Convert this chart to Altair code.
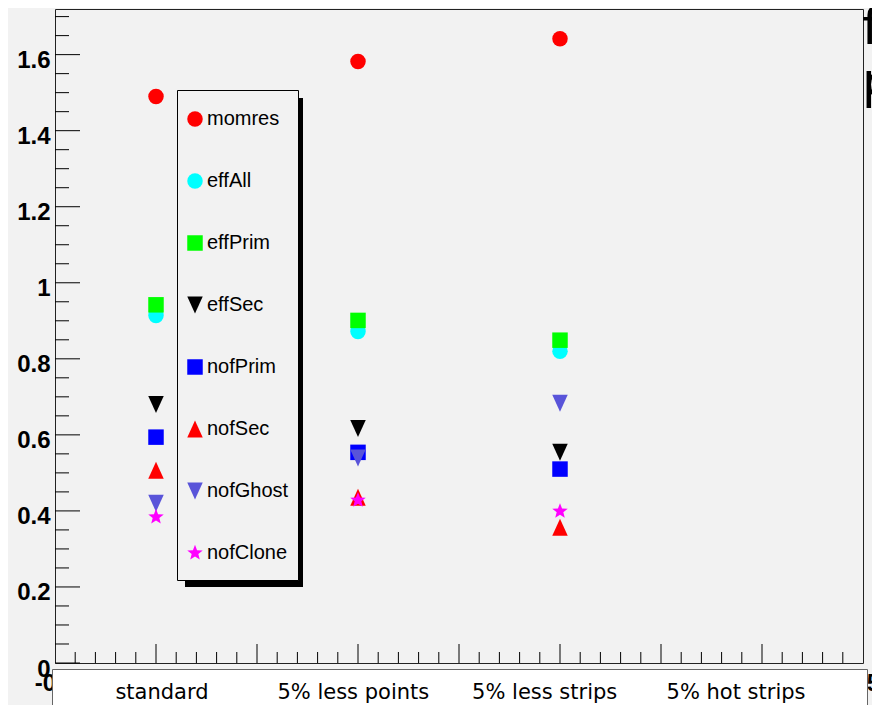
import math
import altair as alt
import pandas as pd

# ---------------- data ----------------
categories = ["standard", "5% less points", "5% less strips", "5% hot strips"]
series = ["momres", "effAll", "effPrim", "effSec", "nofPrim", "nofSec", "nofGhost", "nofClone"]
momres = [1.490, 1.582, 1.642]
effAll = [0.914, 0.872, 0.820]
effPrim = [0.942, 0.901, 0.849]
effSec = [0.680, 0.617, 0.554]
nofPrim = [0.594, 0.554, 0.510]
nofSec = [0.507, 0.436, 0.357]
nofGhost = [0.420, 0.539, 0.683]
nofClone = [0.384, 0.428, 0.399]
y_tick_labels = [0, 0.2, 0.4, 0.6, 0.8, 1, 1.2, 1.4, 1.6]
x_tick_labels = [-0.5, 3.5]   # the inner x labels are hidden under the label box
side_text = ["f", "p"]

values_by_series = {
    "momres": momres, "effAll": effAll, "effPrim": effPrim, "effSec": effSec,
    "nofPrim": nofPrim, "nofSec": nofSec, "nofGhost": nofGhost, "nofClone": nofClone,
}

rows = []
for s in series:
    for i, v in enumerate(values_by_series[s]):
        rows.append({"series": s, "pos": i, "value": v})
df = pd.DataFrame(rows)

# axis tick positions (frame decoration)
y_major = y_tick_labels
y_minor = [round(k * 0.05, 2) for k in range(1, 35) if k % 4 != 0]
x_major = [0, 0.5, 1, 1.5, 2, 2.5, 3]
x_minor = [round(-0.5 + k * 0.1, 2) for k in range(1, 40) if k % 5 != 0]

# ---------------- style ----------------
W, H = 808, 654
BG = "#f2f2f2"
colors = ["#ff0000", "#00ffff", "#00ff00", "#000000", "#0000ff", "#ff0000", "#5954d9", "#ff00ff"]

tri_down = "M-1,-1.1L1,-1.1L0,1.1Z"
tri_up = "M-1,1.1L1,1.1L0,-1.1Z"
pts = []
for k in range(10):
    r = 1.05 if k % 2 == 0 else 0.45
    a = -math.pi / 2 + k * math.pi / 5
    pts.append(f"{r * math.cos(a):.3f},{r * math.sin(a):.3f}")
star = "M" + "L".join(pts) + "Z"
shapes = ["circle", "circle", "square", tri_down, "square", tri_up, tri_down, star]

xscale = alt.Scale(domain=[-0.5, 3.5], nice=False, zero=False)
yscale = alt.Scale(domain=[0, 1.72], nice=False, zero=False)

xaxis = alt.Axis(
    values=x_tick_labels,
    labelExpr="(datum.value < 0 ? '-' : '') + format(abs(datum.value), '~g')",
    ticks=False, domain=False, grid=False, title=None,
    labelFont="Liberation Sans", labelFontWeight="bold", labelFontSize=24,
    labelColor="black", labelPadding=8, labelOverlap=False, labelBound=False,
    labelFlush=False, labelBaseline="top", zindex=0,
)
yaxis = alt.Axis(
    values=y_tick_labels, format="~g",
    ticks=False, domain=False, grid=False, title=None,
    labelFont="Liberation Sans", labelFontWeight="bold", labelFontSize=24,
    labelColor="black", labelPadding=5, labelOverlap=False, labelBound=False,
    labelFlush=False, labelBaseline="middle", labelOffset=6, zindex=0,
)

legend = alt.Legend(
    orient="none", legendX=130, legendY=100, title=None, padding=0,
    labelFont="Liberation Sans", labelFontSize=20, labelColor="black",
    labelOffset=2, rowPadding=42, symbolSize=240, symbolStrokeWidth=0,
    symbolOpacity=1,
)

one = pd.DataFrame({"k": [0]})

shadow = alt.Chart(one).mark_rect(color="black").encode(
    x=alt.value(130), x2=alt.value(248), y=alt.value(89), y2=alt.value(578)
)
legbox = alt.Chart(one).mark_rect(fill=BG, stroke="black", strokeWidth=1).encode(
    x=alt.value(122.5), x2=alt.value(243.5), y=alt.value(81.5), y2=alt.value(571.5)
)

yt_major = alt.Chart(pd.DataFrame({"value": y_major})).mark_rule(color="black", strokeWidth=1).encode(
    y=alt.Y("value:Q", scale=yscale, axis=yaxis), x=alt.value(0), x2=alt.value(25)
)
yt_minor = alt.Chart(pd.DataFrame({"value": y_minor})).mark_rule(color="black", strokeWidth=1).encode(
    y=alt.Y("value:Q", scale=yscale, axis=yaxis), x=alt.value(0), x2=alt.value(14)
)
xt_major = alt.Chart(pd.DataFrame({"v": x_major})).mark_rule(color="black", strokeWidth=1).encode(
    x=alt.X("v:Q", scale=xscale, axis=None), y=alt.value(H), y2=alt.value(H - 19)
)
xt_minor = alt.Chart(pd.DataFrame({"v": x_minor})).mark_rule(color="black", strokeWidth=1).encode(
    x=alt.X("v:Q", scale=xscale, axis=None), y=alt.value(H), y2=alt.value(H - 11)
)

points = alt.Chart(df).mark_point(filled=True, size=240, opacity=1, strokeWidth=0).encode(
    x=alt.X("pos:Q", scale=xscale, axis=xaxis),
    y=alt.Y("value:Q", scale=yscale, axis=yaxis),
    color=alt.Color("series:N", scale=alt.Scale(domain=series, range=colors), legend=legend),
    shape=alt.Shape("series:N", scale=alt.Scale(domain=series, range=shapes), legend=legend),
)

labbox = alt.Chart(one).mark_rect(fill="white", stroke="#666666", strokeWidth=1).encode(
    x=alt.value(-2.5), x2=alt.value(812.5), y=alt.value(660.5), y2=alt.value(730)
)
labels = alt.Chart(pd.DataFrame({"cat": categories})).mark_text(
    font="DejaVu Sans", fontSize=21, color="black", baseline="middle", align="center"
).encode(
    x=alt.X("cat:N", sort=categories, scale=alt.Scale(type="point", range=[107, 681], padding=0), axis=None),
    y=alt.value(684),
    text="cat:N",
)

side = alt.Chart(one).mark_text(
    text="\n".join(side_text), lineBreak="\n", lineHeight=54,
    font="DejaVu Sans", fontSize=50, color="black", align="left", baseline="alphabetic",
).encode(x=alt.value(807), y=alt.value(35))

chart = alt.layer(
    shadow, legbox, yt_major, yt_minor, xt_major, xt_minor, points, labbox, labels, side
).resolve_scale(x="independent").properties(
    width=W, height=H,
    autosize=alt.AutoSizeParams(type="none"),
    padding={"left": 47, "top": 1, "right": 9, "bottom": 42},
    background=BG,
).configure_view(fill=BG, stroke="#222222", strokeWidth=1)

chart.save("out.html", embed_options={"renderer": "svg", "actions": False})
